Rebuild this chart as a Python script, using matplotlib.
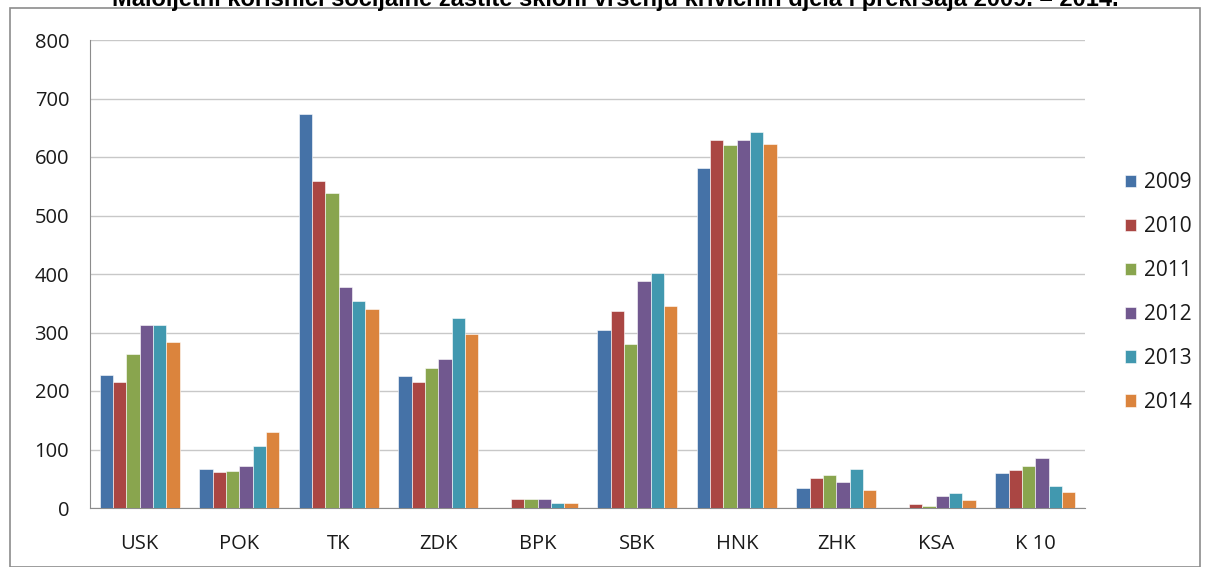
import numpy as np
import matplotlib.pyplot as plt
from matplotlib.patches import Rectangle

plt.rcParams['font.family'] = ['Open Sans', 'DejaVu Sans']

regions = ["USK", "POK", "TK", "ZDK", "BPK", "SBK", "HNK", "ZHK", "KSA", "K 10"]
years = ["2009", "2010", "2011", "2012", "2013", "2014"]

v2009 = [228, 67, 673, 225, 0, 304, 582, 35, 0, 59]
v2010 = [215, 61, 559, 215, 16, 336, 629, 51, 6, 65]
v2011 = [263, 63, 538, 240, 16, 280, 620, 56, 3, 71]
v2012 = [313, 71, 377, 255, 16, 388, 629, 44, 20, 86]
v2013 = [312, 106, 354, 325, 8, 401, 643, 67, 25, 38]
v2014 = [284, 130, 340, 297, 8, 346, 623, 31, 14, 27]
series = [v2009, v2010, v2011, v2012, v2013, v2014]

colors = ["#4572A7", "#AA4643", "#89A54E", "#71588F", "#4198AF", "#DB843D"]

title = "Maloljetni korisnici socijalne zaštite skloni vršenju krivičnih djela i prekršaja 2009. – 2014."


def main():
    fig = plt.figure(figsize=(12.06, 5.67), dpi=100)
    ax = fig.add_axes([90 / 1206, 1 - 508 / 567, 995 / 1206, 468 / 567])

    x = np.arange(len(regions))
    w = 0.8 / len(series)
    for i, vals in enumerate(series):
        ax.bar(x - 0.4 + w * (i + 0.5), vals, width=w, color=colors[i],
               edgecolor="white", linewidth=0.4, label=years[i], zorder=3)

    ax.set_xlim(-0.5, len(regions) - 0.5)
    ax.set_ylim(0, 800)
    ax.set_yticks(range(0, 801, 100))
    ax.set_xticks(x)
    ax.set_xticklabels(regions)
    ax.tick_params(axis="both", labelsize=14.5, colors="#1a1a1a", length=0)
    ax.tick_params(axis="x", pad=19)
    ax.tick_params(axis="y", pad=15)
    ax.grid(axis="y", color="#c8c8c8", linewidth=1, zorder=0)
    for s in ["top", "right"]:
        ax.spines[s].set_visible(False)
    ax.spines["left"].set_color("#8c8c8c")
    ax.spines["bottom"].set_color("#8c8c8c")

    ax.legend(loc="center left", bbox_to_anchor=(1.04, 0.46), frameon=False,
              borderaxespad=0, borderpad=0,
              fontsize=15, handlelength=0.55, handleheight=0.55,
              labelspacing=1.1, handletextpad=0.35, labelcolor="#1a1a1a")

    # outer chart frame
    fig.patches.append(Rectangle((10 / 1206, 0), 1190 / 1206, 1 - 8 / 567,
                                 transform=fig.transFigure, fill=False,
                                 edgecolor="#8c8c8c", linewidth=1.2))

    # title partly cut by the top edge
    fig.text(615 / 1206, 1 + 1 / 567, title, ha="center", va="center",
             fontsize=17, fontweight="bold", family=["Liberation Sans", "DejaVu Sans"])

    fig.savefig("out.png", dpi=100)


if __name__ == "__main__":
    main()
